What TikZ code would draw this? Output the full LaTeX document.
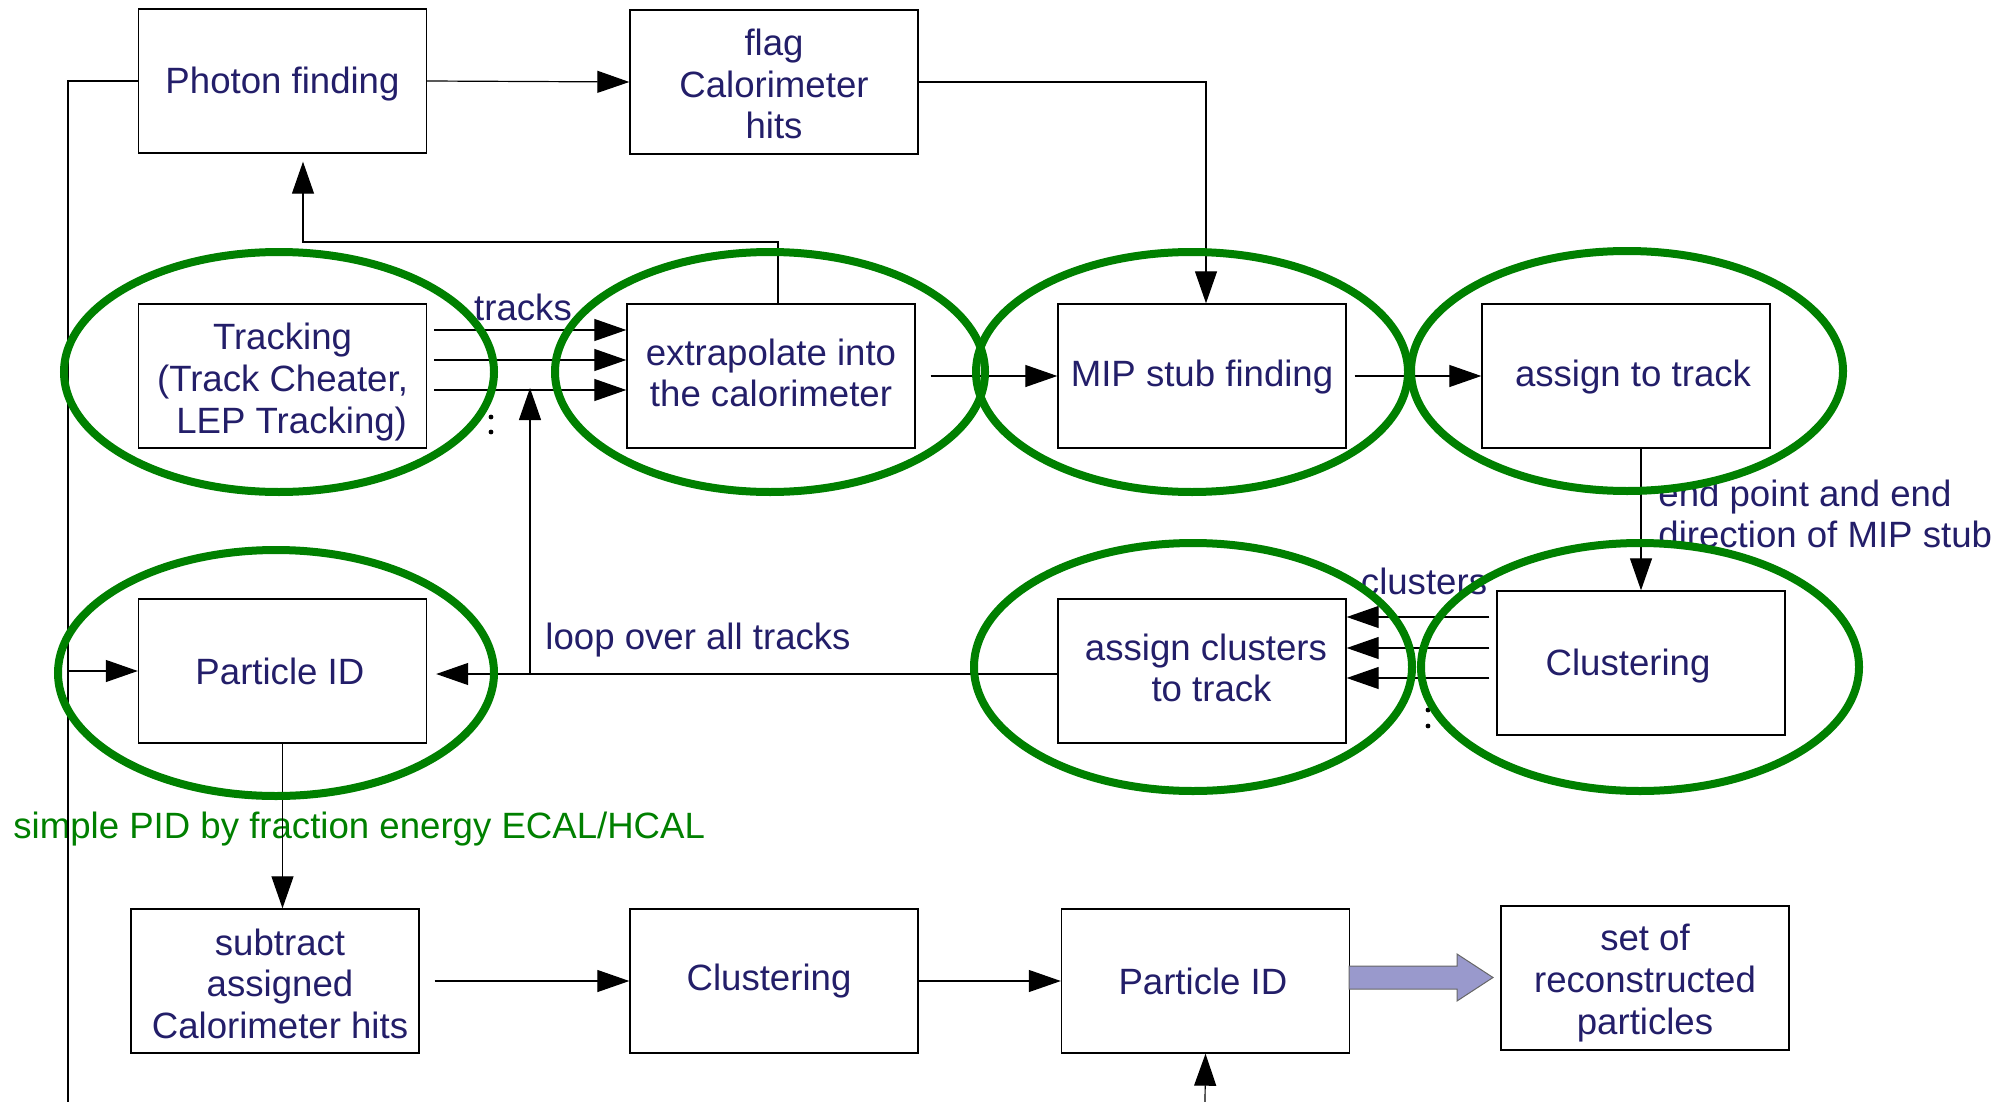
\documentclass[tikz,border=0pt]{standalone}
\usepackage{fontspec}
\setmainfont{Liberation Sans}
\usetikzlibrary{arrows.meta,shapes.geometric}
\definecolor{navy}{RGB}{35,30,105}
\definecolor{ringgreen}{RGB}{0,128,0}
\definecolor{lilac}{RGB}{153,153,204}
\begin{document}
\begin{tikzpicture}[x=0.5pt,y=-0.5pt,
  txt/.style={text=navy, font=\fontsize{18.3}{20.8}\selectfont},
  box/.style={draw=black, line width=0.7pt, minimum width=144pt, minimum height=72pt, inner sep=0pt},
  lbl/.style={txt, inner sep=0pt, align=center},
  wire/.style={line width=0.6pt},
  conn/.style={wire, -{Triangle[length=16pt,width=11pt]}},
  ring/.style={draw=ringgreen, line width=4pt, ellipse, inner sep=0pt},
]
\useasboundingbox (0,0) rectangle (2012,1102);

% processing steps (frames)
\node[box] (photon) at (282.5,81)  {};
\node[box] (flag)   at (774,82)    {};
\node[box] (track)  at (282.5,376) {};
\node[box] (extra)  at (771,376)   {};
\node[box] (mip)    at (1202,376)  {};
\node[box] (assign) at (1626,376)  {};
\node[box] (pid)    at (282.5,671) {};
\node[box] (acl)    at (1202,671)  {};
\node[box] (clusR)  at (1641,663)  {};
\node[box] (sub)    at (275,981)   {};
\node[box] (clusB)  at (774,981)   {};
\node[box] (pidB)   at (1205.5,981){};
\node[box] (set)    at (1645,978)  {};

% step captions
\node[lbl] (photon-t) at ([yshift=-1.3pt]photon.center) {Photon finding};
\node[lbl] (flag-t)   at ([yshift=-1pt]flag.center) {flag\\Calorimeter\\hits};
\node[lbl] (track-t)  at ([yshift=-3pt]track.center) {Tracking\\(Track Cheater,\\\hspace*{0.5em}LEP Tracking)};
\node[lbl] (extra-t)  at ([yshift=1.5pt]extra.center) {extrapolate into\\the calorimeter};
\node[lbl] (mip-t)    at ([yshift=-0.6pt]mip.center) {MIP stub finding};
\node[lbl] (assign-t) at ([xshift=3.5pt,yshift=-0.6pt]assign.center) {assign to track};
\node[lbl] (pid-t)    at ([xshift=-1.3pt]pid.center) {Particle ID};
\node[lbl] (acl-t)    at ([xshift=2pt,yshift=1.5pt]acl.center) {assign clusters\\\hspace*{0.3em}to track};
\node[lbl] (clusR-t)  at ([xshift=-6.5pt,yshift=-1.3pt]clusR.center) {Clustering};
\node[lbl] (sub-t)    at ([xshift=2.5pt,yshift=-1.3pt]sub.center) {subtract\\assigned\\Calorimeter hits};
\node[lbl] (clusB-t)  at ([xshift=-2.5pt]clusB.center) {Clustering};
\node[lbl] (pidB-t)   at ([xshift=-1.3pt]pidB.center) {Particle ID};
\node[lbl] (set-t)    at ([yshift=-2.5pt]set.center) {set of\\reconstructed\\particles};

% labels
\node[lbl] (ltracks)   at (523,307)  {tracks};
\node[lbl] (lclusters) at (1424,581) {clusters};
\node[lbl] (lloop)     at (698,640)  {loop over all tracks};
\node[lbl, anchor=west, align=left] (lstub) at (1658,514) {end point and end\\direction of MIP stub};
\node[lbl, text=ringgreen, anchor=west] (lpid) at (13,829) {simple PID by fraction energy ECAL/HCAL};

% helper points
\coordinate (ltop) at (68,81);
\coordinate (lbot) at (68,1102);
\coordinate (fcorner) at (1206,82);
\coordinate (up1) at (778,242);
\coordinate (up2) at (303,242);
\coordinate (loopbase) at (530,674);
\coordinate (looptip) at (530,388);
\coordinate (bin) at (1205,1102);

% connectors
\draw[wire] (photon.west) -- (ltop) -- (lbot);
\draw[conn] (ltop |- pid.west) -- (pid.west);
\draw[conn] (photon.east) -- (flag.west);
\draw[conn] (flag.east) -- (fcorner) -- (fcorner |- mip.north);
\draw[conn, shorten >=4pt] (up1 |- extra.north) -- (up1) -- (up2) -- (up2 |- photon.south);
\foreach \s in {23pt,8pt,-7pt}
  \draw[conn, shorten <=3.5pt] ([yshift=\s]track.east) -- ([yshift=\s]extra.west);
\draw[conn, shorten <=7.5pt] (extra.east) -- (mip.west);
\draw[conn, shorten <=4pt] (mip.east) -- (assign.west);
\draw[conn] (assign.south -| clusR.north) -- (clusR.north);
\foreach \s in {27pt,11.5pt,-3.5pt}{
  \path ([yshift=\s]acl.east) coordinate (ca);
  \draw[conn, shorten <=3.5pt] (ca -| clusR.west) -- (ca);
}
\draw[conn, shorten >=4.5pt] (loopbase -| acl.west) -- (loopbase -| pid.east);
\draw[conn] (loopbase) -- (looptip);
\draw[conn] (pid.south) -- (pid.south |- sub.north);
\draw[conn, shorten <=7.5pt] (sub.east) -- (clusB.west);
\draw[conn] (clusB.east) -- (pidB.west);
\draw[conn] (bin) -- (pidB.south);

% block arrow to the output
\filldraw[fill=lilac, draw=black!60, line width=0.5pt]
  (1349,966) -- (1457,966) -- (1457,954) -- (1493,977.5) -- (1457,1001)
  -- (1457,989) -- (1349,989) -- cycle;

% continuation dots
\fill (491,417) circle[radius=1.2pt];
\fill (491,432) circle[radius=1.2pt];
\fill (1428,710) circle[radius=1.2pt];
\fill (1428,726) circle[radius=1.2pt];

% green rings
\node[ring, minimum width=215pt, minimum height=120pt] (r1) at (279,372) {};
\node[ring, minimum width=215pt, minimum height=120pt] (r2) at (770,372) {};
\node[ring, minimum width=216pt, minimum height=120pt] (r3) at (1192,372) {};
\node[ring, minimum width=216pt, minimum height=120pt] (r4) at (1627,371) {};
\node[ring, minimum width=218pt, minimum height=123pt] (r5) at (276,673) {};
\node[ring, minimum width=219pt, minimum height=124pt] (r6) at (1193,667) {};
\node[ring, minimum width=219pt, minimum height=124pt] (r7) at (1640,667) {};
\end{tikzpicture}
\end{document}
